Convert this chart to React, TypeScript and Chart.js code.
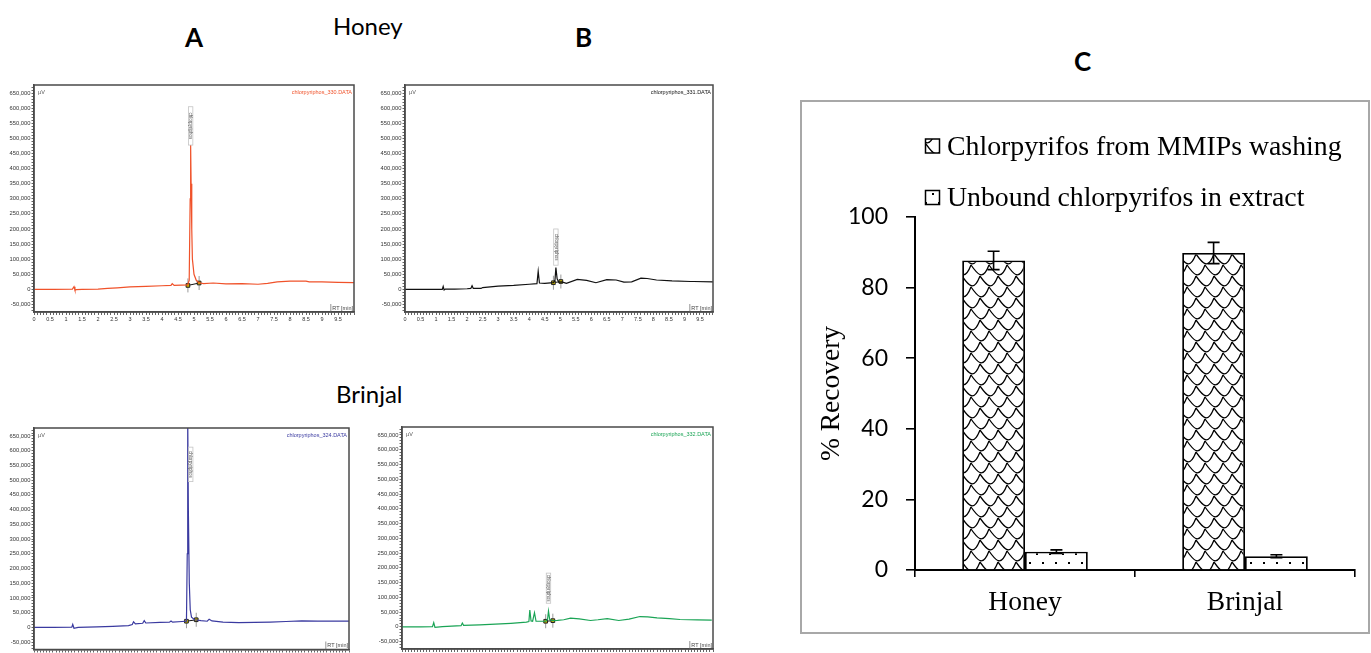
import React, { useEffect, useRef } from "react";
import { Chart, registerables } from "chart.js";

Chart.register(...registerables);

// ---------------- Panel C : recovery bar chart ----------------
const recoveryCategories = ["Honey", "Brinjal"];
const seriesLabels = ["Chlorpyrifos from MMIPs washing", "Unbound chlorpyrifos in extract"];
const washingRecovery = [87.7, 89.8];
const washingError = [2.6, 3.0];
const unboundRecovery = [5.2, 3.9];
const unboundError = [0.5, 0.4];
const recoveryAxisTitle = "% Recovery";
const recoveryMin = 0;
const recoveryMax = 100;
const recoveryStep = 20;

// ---------------- Chromatograms (time in min, signal in µV) ----------------
const honeyWashTimes = [0, 0.6, 1.2, 1.25, 1.28, 1.32, 1.5, 2.0, 2.3, 2.6, 3.0, 3.5, 4.0, 4.28, 4.32, 4.38, 4.6, 4.8, 4.85, 4.88, 4.895, 4.91, 4.93, 4.95, 5.0, 5.07, 5.15, 5.3, 5.6, 6.0, 6.5, 7.0, 7.3, 7.6, 8.0, 8.5, 8.6, 9.0, 9.5, 10];
const honeyWashSignal = [0, 0, 1000, 9000, -3000, -1000, 0, 500, 3000, 5000, 8000, 10000, 12000, 13000, 19000, 13000, 14000, 15000, 30000, 300000, 478000, 350000, 200000, 100000, 50000, 30000, 22000, 19000, 21000, 18000, 19000, 17000, 20000, 25000, 27000, 27000, 25000, 25000, 23000, 22000];
const honeyWashMarkTimes = [4.81, 5.16];
const honeyWashMarkSignal = [13000, 21000];

const honeyExtractTimes = [0, 0.6, 1.2, 1.23, 1.26, 1.3, 1.6, 2.0, 2.12, 2.16, 2.2, 2.45, 2.5, 3.0, 3.5, 4.0, 4.25, 4.29, 4.33, 4.5, 4.78, 4.83, 4.86, 4.9, 4.95, 5.05, 5.2, 5.55, 5.85, 6.15, 6.5, 6.8, 7.05, 7.3, 7.6, 7.8, 8.1, 8.6, 9.2, 9.3, 9.92];
const honeyExtractSignal = [0, 0, 0, 10000, -2000, 1000, 1000, 2000, 3000, 12000, 3000, 3000, 6000, 11000, 13000, 17000, 19000, 60000, 21000, 20000, 22000, 30000, 72000, 35000, 24000, 25000, 20000, 33000, 30000, 22000, 32000, 31000, 24000, 25000, 37000, 36000, 31000, 28000, 26000, 26000, 25000];
const honeyExtractMarkTimes = [4.78, 5.02];
const honeyExtractMarkSignal = [22000, 26000];

const brinjalWashTimes = [0, 0.6, 1.2, 1.23, 1.27, 1.4, 1.7, 2.0, 2.5, 3.0, 3.12, 3.16, 3.22, 3.45, 3.5, 3.55, 4.0, 4.3, 4.35, 4.4, 4.7, 4.84, 4.865, 4.88, 4.9, 4.93, 4.96, 5.0, 5.1, 5.3, 5.5, 5.56, 5.65, 6.0, 6.5, 7.0, 7.5, 8.0, 8.5, 9.0, 10];
const brinjalWashSignal = [0, 0, 500, 10000, -3000, 0, 1000, 2000, 3500, 6000, 10000, 19000, 12000, 14000, 23000, 15000, 17000, 18000, 22000, 18000, 20000, 21000, 250000, 720000, 400000, 150000, 60000, 35000, 26000, 23000, 21000, 28000, 22000, 18000, 16000, 17000, 18000, 20000, 22000, 21000, 21000];
const brinjalWashMarkTimes = [4.84, 5.15];
const brinjalWashMarkSignal = [21000, 26000];

const brinjalExtractTimes = [0, 0.6, 0.98, 1.02, 1.06, 1.3, 1.9, 1.94, 1.98, 2.5, 3.0, 3.5, 4.0, 4.08, 4.11, 4.15, 4.2, 4.26, 4.31, 4.5, 4.62, 4.68, 4.71, 4.75, 4.85, 5.0, 5.2, 5.42, 5.7, 6.06, 6.3, 6.6, 6.97, 7.3, 7.65, 7.9, 8.2, 8.6, 8.94, 9.5, 9.96];
const brinjalExtractSignal = [0, 0, 1000, 14000, -2000, 1000, 4000, 13000, 5000, 7000, 9000, 12000, 16000, 18000, 57000, 20000, 19000, 48000, 19000, 19000, 19000, 25000, 53000, 25000, 21000, 22000, 24000, 29500, 27000, 21600, 24000, 28000, 21600, 26000, 35000, 34000, 30700, 28000, 25000, 23500, 22700];
const brinjalExtractMarkTimes = [4.62, 4.85];
const brinjalExtractMarkSignal = [19000, 21000];

// axis ranges and tick lists of the chromatograms
const signalMin = -75000;
const signalMax = 677000;
const signalTickValues = Array.from({ length: 75 }, (_, i) => -70000 + i * 10000);
const signalMajorStep = 50000;
const timeTickValues = Array.from({ length: 101 }, (_, i) => Math.round(i) / 10);
const timeMajorStep = 0.5;
const peakName = "chlorpyriphos";

type Area = { l: number; t: number; r: number; b: number };
type ChromProps = {
  left: number; top: number; width: number; height: number; area: Area;
  times: number[]; signal: number[]; color: string; fileLabel: string; xMax: number;
  markTimes: number[]; markSignal: number[];
  peakTime: number; labelFrom: number; labelTo: number; labelShift: number;
};

const isMultiple = (v: number, step: number) => Math.abs(v / step - Math.round(v / step)) < 1e-6;

function Chromatogram(p: ChromProps) {
  const ref = useRef<HTMLCanvasElement>(null);
  useEffect(() => {
    const canvas = ref.current!;
    const annot = {
      id: "chromAnnot",
      beforeDatasetsDraw(chart: any) {
        const { ctx, scales } = chart;
        ctx.save();
        ctx.strokeStyle = "#9a9a9a";
        ctx.lineWidth = 1;
        p.markTimes.forEach((t, i) => {
          const x = scales.x.getPixelForValue(t);
          const y = scales.y.getPixelForValue(p.markSignal[i]);
          ctx.beginPath();
          ctx.moveTo(x, y - 7);
          ctx.lineTo(x, y + 7);
          ctx.stroke();
        });
        ctx.restore();
      },
      afterDatasetsDraw(chart: any) {
        const { ctx, chartArea: a, scales } = chart;
        ctx.save();
        ctx.strokeStyle = "#4a4a4a";
        ctx.lineWidth = 1.5;
        ctx.strokeRect(a.left, a.top, a.right - a.left, a.bottom - a.top);
        ctx.font = '5.5px "Liberation Sans"';
        ctx.textBaseline = "top";
        ctx.textAlign = "left";
        ctx.fillStyle = "#555";
        ctx.fillText("µV", a.left + 4, a.top + 5);
        ctx.textAlign = "right";
        ctx.fillStyle = p.color;
        ctx.fillText(p.fileLabel, a.right - 2, a.top + 5);
        ctx.fillStyle = "#444";
        ctx.textBaseline = "bottom";
        ctx.fillText("RT [min]", a.right - 1, a.bottom - 1);
        const w = ctx.measureText("RT [min]").width;
        ctx.strokeStyle = "#666";
        ctx.lineWidth = 0.7;
        ctx.beginPath();
        ctx.moveTo(a.right - w - 2.5, a.bottom);
        ctx.lineTo(a.right - w - 2.5, a.bottom - 8);
        ctx.stroke();
        const px = scales.x.getPixelForValue(p.peakTime) + p.labelShift;
        const y1 = scales.y.getPixelForValue(p.labelFrom);
        const y2 = scales.y.getPixelForValue(p.labelTo);
        ctx.strokeStyle = "#c4c4c4";
        ctx.lineWidth = 0.8;
        ctx.strokeRect(px - 2.2, y2, 4.4, y1 - y2);
        ctx.translate(px, (y1 + y2) / 2);
        ctx.rotate(Math.PI / 2);
        ctx.font = '4.5px "Liberation Sans"';
        ctx.fillStyle = "#555";
        ctx.textAlign = "center";
        ctx.textBaseline = "middle";
        ctx.fillText(peakName, 0, 0);
        ctx.restore();
      },
    };
    const chart = new Chart(canvas, {
      type: "line",
      data: {
        datasets: [
          {
            data: p.times.map((t, i) => ({ x: t, y: p.signal[i] })),
            borderColor: p.color,
            borderWidth: 1.2,
            pointRadius: 0,
            tension: 0,
          },
          {
            data: p.markTimes.map((t, i) => ({ x: t, y: p.markSignal[i] })),
            borderColor: "#111",
            borderWidth: 1,
            pointRadius: 2.6,
            pointStyle: "rect",
            pointBackgroundColor: "#c9b400",
            pointBorderColor: "#222",
            pointBorderWidth: 1,
          },
        ],
      },
      options: {
        responsive: false,
        animation: false,
        events: [],
        layout: { padding: { left: 0, top: p.area.t, right: p.width - p.area.r, bottom: 0 } },
        plugins: { legend: { display: false }, tooltip: { enabled: false } },
        scales: {
          x: {
            type: "linear",
            position: "bottom",
            min: 0,
            max: p.xMax,
            afterFit: (s: any) => { s.height = p.height - p.area.b; },
            afterBuildTicks: (s: any) => { s.ticks = timeTickValues.filter((v) => v <= p.xMax).map((v) => ({ value: v })); },
            ticks: {
              autoSkip: false,
              maxRotation: 0,
              padding: 1,
              color: "#333",
              font: { family: "Liberation Sans", size: 5.5 },
              callback: (v: any) => (isMultiple(Number(v), timeMajorStep) && Number(v) < p.xMax - 0.2 ? String(Number(v)) : ""),
            },
            grid: { drawOnChartArea: false, tickLength: 3, color: "#222", lineWidth: 0.7 },
            border: { color: "#4a4a4a", width: 1.5 },
          },
          y: {
            type: "linear",
            position: "left",
            min: signalMin,
            max: signalMax,
            afterFit: (s: any) => { s.width = p.area.l; },
            afterBuildTicks: (s: any) => { s.ticks = signalTickValues.map((v) => ({ value: v })); },
            ticks: {
              autoSkip: false,
              padding: 1,
              color: "#333",
              font: { family: "Liberation Sans", size: 5.8 },
              callback: (v: any) => {
                const n = Number(v);
                return isMultiple(n, signalMajorStep) ? n.toLocaleString("en-US") : "";
              },
            },
            grid: { drawOnChartArea: false, tickLength: 2.5, color: "#222", lineWidth: 0.7 },
            border: { color: "#4a4a4a", width: 1.5 },
          },
        },
      },
      plugins: [annot],
    });
    return () => chart.destroy();
  }, []);
  return (
    <canvas
      ref={ref}
      width={p.width}
      height={p.height}
      style={{ position: "absolute", left: p.left, top: p.top, width: p.width, height: p.height }}
    />
  );
}

function makeShinglePattern(ctx: CanvasRenderingContext2D): CanvasPattern {
  const w = 18, pitch = 11, h = pitch * 2;
  const c = document.createElement("canvas");
  c.width = w;
  c.height = h;
  const g = c.getContext("2d")!;
  g.fillStyle = "#fff";
  g.fillRect(0, 0, w, h);
  g.strokeStyle = "#000";
  g.lineWidth = 1.3;
  for (let r = -2; r <= 3; r++) {
    const y = r * pitch;
    const off = Math.abs(r) % 2 === 1 ? w / 2 : 0;
    for (let k = -2; k <= 1; k++) {
      const x = k * w + off;
      g.beginPath();
      g.moveTo(x, y);
      g.bezierCurveTo(x + 7, y + 10, x + 12, y + 16, x + w, y);
      g.stroke();
    }
  }
  return ctx.createPattern(c, "repeat")!;
}

function makeDotPattern(ctx: CanvasRenderingContext2D): CanvasPattern {
  const c = document.createElement("canvas");
  c.width = 13;
  c.height = 18;
  const g = c.getContext("2d")!;
  g.fillStyle = "#fff";
  g.fillRect(0, 0, 13, 18);
  g.fillStyle = "#000";
  g.fillRect(2, 3, 2, 2);
  g.fillRect(8, 12, 2, 2);
  return ctx.createPattern(c, "repeat")!;
}

const serif = '"Liberation Serif", "Times New Roman", serif';

function RecoveryChart() {
  const ref = useRef<HTMLCanvasElement>(null);
  useEffect(() => {
    const canvas = ref.current!;
    const ctx = canvas.getContext("2d")!;
    const shingle = makeShinglePattern(ctx);
    const dots = makeDotPattern(ctx);
    const errors = [washingError, unboundError];

    const errorBars = {
      id: "errorBars",
      afterDatasetsDraw(chart: any) {
        const c = chart.ctx;
        const ys = chart.scales.y;
        c.save();
        c.strokeStyle = "#000";
        c.lineWidth = 1.6;
        chart.data.datasets.forEach((ds: any, i: number) => {
          const meta = chart.getDatasetMeta(i);
          meta.data.forEach((bar: any, j: number) => {
            const v = ds.data[j];
            const e = errors[i][j];
            const yt = ys.getPixelForValue(v + e);
            const yb = ys.getPixelForValue(v - e);
            c.beginPath();
            c.moveTo(bar.x, yt);
            c.lineTo(bar.x, yb);
            c.moveTo(bar.x - 6, yt);
            c.lineTo(bar.x + 6, yt);
            c.moveTo(bar.x - 6, yb);
            c.lineTo(bar.x + 6, yb);
            c.stroke();
          });
        });
        c.restore();
      },
    };

    const patternLegend = {
      id: "patternLegend",
      afterDraw(chart: any) {
        const c = chart.ctx;
        const a = chart.chartArea;
        c.save();
        c.font = `27.8px ${serif}`;
        c.textBaseline = "alphabetic";
        c.textAlign = "left";
        chart.data.datasets.forEach((ds: any, i: number) => {
          const base = a.top - 62.5 + i * 51.5;
          const bx = a.left + 10.5;
          const by = base - 15.5;
          c.fillStyle = ds.backgroundColor;
          c.fillRect(bx, by, 14, 14);
          c.strokeStyle = "#000";
          c.lineWidth = 1.5;
          c.strokeRect(bx, by, 14, 14);
          c.fillStyle = "#000";
          c.fillText(ds.label, a.left + 32, base);
        });
        c.restore();
      },
    };

    const chart = new Chart(canvas, {
      type: "bar",
      data: {
        labels: recoveryCategories,
        datasets: [
          {
            label: seriesLabels[0],
            data: washingRecovery,
            backgroundColor: shingle as any,
            borderColor: "#000",
            borderWidth: 1.8,
            categoryPercentage: 0.571,
            barPercentage: 1,
          },
          {
            label: seriesLabels[1],
            data: unboundRecovery,
            backgroundColor: dots as any,
            borderColor: "#000",
            borderWidth: 1.8,
            categoryPercentage: 0.571,
            barPercentage: 1,
          },
        ],
      },
      options: {
        responsive: false,
        animation: false,
        events: [],
        layout: { padding: { left: 0, top: 117, right: 15, bottom: 0 } },
        plugins: { legend: { display: false }, tooltip: { enabled: false } },
        scales: {
          x: {
            afterFit: (s: any) => { s.height = 63; },
            ticks: { color: "#000", padding: 9, font: { family: serif, size: 27.5 } },
            grid: { drawOnChartArea: false, tickLength: 7, color: "#000", lineWidth: 1.6, offset: true },
            border: { color: "#000", width: 2 },
          },
          y: {
            min: recoveryMin,
            max: recoveryMax,
            afterFit: (s: any) => { s.width = 115; },
            ticks: { stepSize: recoveryStep, color: "#000", padding: 18, font: { family: "Lato", size: 23 } },
            grid: { drawOnChartArea: false, tickLength: 9, color: "#000", lineWidth: 1.6 },
            border: { color: "#000", width: 2 },
            title: {
              display: true,
              text: recoveryAxisTitle,
              color: "#000",
              font: { family: serif, size: 27.5 },
              padding: { top: 15, bottom: 0 },
            },
          },
        },
      },
      plugins: [errorBars, patternLegend],
    });
    return () => chart.destroy();
  }, []);
  return (
    <canvas
      ref={ref}
      width={570}
      height={533}
      style={{ position: "absolute", left: 800, top: 100, width: 570, height: 533 }}
    />
  );
}

function Label(props: { text: string; left: number; top: number; size: number; bold?: boolean }) {
  return (
    <div
      style={{
        position: "absolute",
        left: props.left,
        top: props.top,
        fontFamily: "Lato",
        fontSize: props.size,
        fontWeight: props.bold ? 700 : 400,
        lineHeight: 1,
        whiteSpace: "nowrap",
        color: "#000",
      }}
    >
      {props.text}
    </div>
  );
}

export default function App() {
  return (
    <div style={{ position: "fixed", left: 0, top: 0, width: 1371, height: 653, overflow: "hidden", background: "#fff" }}>
      <Label text="A" left={185} top={24} size={26} bold />
      <Label text="Honey" left={333} top={13.7} size={24} />
      <Label text="B" left={575} top={24} size={26} bold />
      <Label text="C" left={1074} top={48.4} size={26} bold />
      <Label text="Brinjal" left={336} top={381.7} size={24} />

      <Chromatogram
        left={0} top={80} width={360} height={250} area={{ l: 34, t: 5, r: 354, b: 232 }}
        times={honeyWashTimes} signal={honeyWashSignal} color="#f0522a" fileLabel="chlorpyriphos_330.DATA" xMax={10}
        markTimes={honeyWashMarkTimes} markSignal={honeyWashMarkSignal}
        peakTime={4.895} labelFrom={478000} labelTo={605000} labelShift={0}
      />
      <Chromatogram
        left={370} top={80} width={350} height={250} area={{ l: 35, t: 5, r: 343, b: 232 }}
        times={honeyExtractTimes} signal={honeyExtractSignal} color="#111111" fileLabel="chlorpyriphos_331.DATA" xMax={9.92}
        markTimes={honeyExtractMarkTimes} markSignal={honeyExtractMarkSignal}
        peakTime={4.86} labelFrom={80000} labelTo={200000} labelShift={0}
      />
      <Chromatogram
        left={0} top={423} width={360} height={250} area={{ l: 34, t: 5, r: 349, b: 226.5 }}
        times={brinjalWashTimes} signal={brinjalWashSignal} color="#3a3aa0" fileLabel="chlorpyriphos_324.DATA" xMax={10}
        markTimes={brinjalWashMarkTimes} markSignal={brinjalWashMarkSignal}
        peakTime={4.88} labelFrom={495000} labelTo={612000} labelShift={3}
      />
      <Chromatogram
        left={370} top={422} width={350} height={250} area={{ l: 32, t: 5, r: 343, b: 227 }}
        times={brinjalExtractTimes} signal={brinjalExtractSignal} color="#1aa455" fileLabel="chlorpyriphos_332.DATA" xMax={10}
        markTimes={brinjalExtractMarkTimes} markSignal={brinjalExtractMarkSignal}
        peakTime={4.71} labelFrom={80000} labelTo={182000} labelShift={0}
      />

      <div
        style={{
          position: "absolute", left: 800, top: 100, width: 570, height: 534,
          boxSizing: "border-box", border: "2px solid #a8a8a8",
        }}
      />
      <RecoveryChart />
    </div>
  );
}
